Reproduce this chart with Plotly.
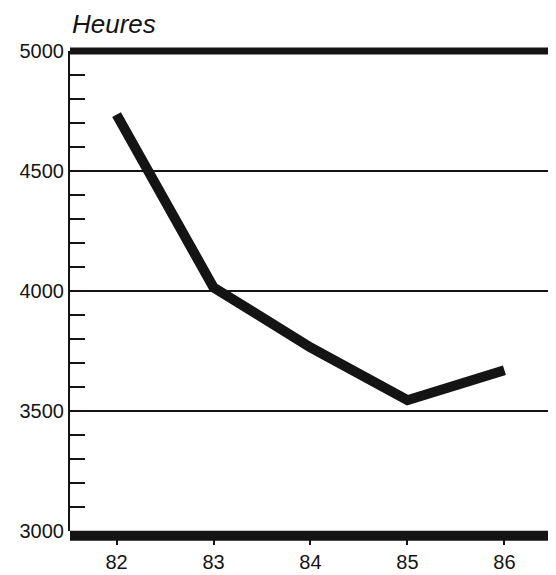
import plotly.graph_objects as go

years = [82, 83, 84, 85, 86]
hours = [4735, 4015, 3765, 3545, 3670]
x_ticks = [82, 83, 84, 85, 86]
y_ticks = [3000, 3500, 4000, 4500, 5000]

INK = "#141414"
TICKFONT = dict(family="Liberation Sans, Arial, sans-serif", size=20, color=INK)

fig = go.Figure()
fig.add_trace(go.Scatter(x=years, y=hours, mode="lines",
                         line=dict(color=INK, width=10),
                         hoverinfo="skip", showlegend=False))

# thick top and bottom borders
fig.add_shape(type="line", xref="paper", yref="paper", x0=0, x1=1, y0=1, y1=1,
              line=dict(color=INK, width=7))
fig.add_shape(type="line", xref="paper", yref="paper", x0=0, x1=1, y0=-0.010, y1=-0.010,
              line=dict(color=INK, width=10))
# thin right border
fig.add_shape(type="line", xref="paper", yref="paper", x0=1, x1=1, y0=0, y1=1,
              line=dict(color=INK, width=2))

fig.add_annotation(text="<i>Heures</i>", xref="paper", yref="paper", x=0.0, y=1.0,
                   xanchor="left", yanchor="bottom", yshift=10, showarrow=False,
                   font=dict(family="Liberation Sans, Arial, sans-serif", size=26, color=INK))

fig.update_layout(
    width=548, height=567,
    margin=dict(l=62, r=6, t=43, b=44, autoexpand=False),
    paper_bgcolor="white", plot_bgcolor="white",
    font=dict(family="Liberation Sans, Arial, sans-serif", color=INK, size=20),
    xaxis=dict(range=[81.52, 86.47], tickvals=x_ticks, ticktext=[str(v) for v in x_ticks],
               ticks="outside", ticklen=13, tickwidth=2, tickcolor=INK,
               showgrid=False, zeroline=False, showline=False, automargin=False,
               tickfont=TICKFONT),
    yaxis=dict(range=[3000, 5000], tickvals=y_ticks, ticktext=[str(v) for v in y_ticks],
               ticks="inside", ticklen=15, tickwidth=2, tickcolor=INK,
               showgrid=True, gridcolor=INK, gridwidth=2, automargin=False,
               zeroline=False, showline=True, linecolor=INK, linewidth=2,
               minor=dict(dtick=100, ticks="inside", ticklen=15, tickwidth=2,
                          tickcolor=INK, showgrid=False),
               tickfont=TICKFONT),
)

fig.write_html("out.html")
